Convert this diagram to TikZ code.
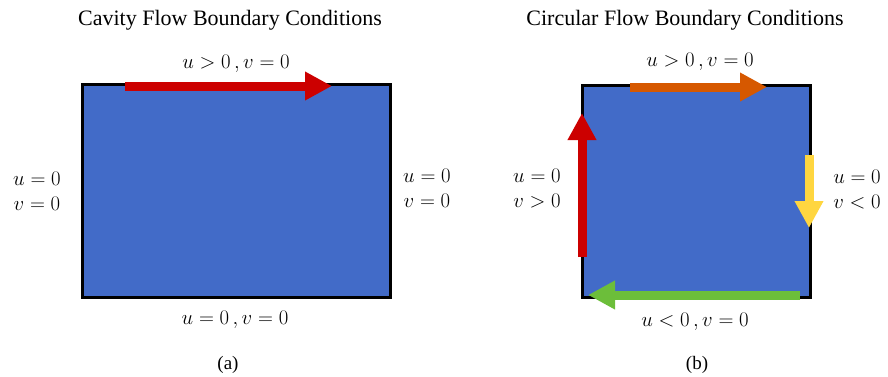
\documentclass[tikz,border=0pt]{standalone}
\usepackage{fontspec}
\setmainfont{Liberation Serif}
\usetikzlibrary{arrows.meta}

\definecolor{fluidblue}{RGB}{66,107,200}
\definecolor{lidred}{RGB}{204,0,0}
\definecolor{lidorange}{RGB}{214,88,0}
\definecolor{wallyellow}{RGB}{255,214,64}
\definecolor{floorgreen}{RGB}{108,190,58}

\tikzset{
  flowarrow/.style={line width=9pt, -{Triangle[length=27pt,width=27pt]}},
  bclabel/.style={font=\fontsize{22}{25}\selectfont, align=center, inner sep=0pt},
  titlelabel/.style={font=\fontsize{22}{26}\selectfont, inner sep=0pt},
  caplabel/.style={font=\fontsize{19}{22}\selectfont, inner sep=0pt}
}

\begin{document}
\begin{tikzpicture}[x=1pt, y=-1pt]

  \useasboundingbox (0,0) rectangle (888,376);

  % Cavity flow
  \node[titlelabel] (cavtitle) at (230,20) {Cavity Flow Boundary Conditions};
  \fill[fluidblue] (82,84) rectangle (390,297);
  \draw[line width=3pt] (82,84) rectangle (390,297);

  \coordinate (cavlidA) at (125,86);
  \coordinate (cavlidB) at (332,86);
  \draw[flowarrow, lidred] (cavlidA) -- (cavlidB);

  \node[bclabel] (cavtop) at (236,64) {$u>0\,,v=0$};
  \node[bclabel] (cavleft) at (37,191) {$u=0$\\$v=0$};
  \node[bclabel] (cavright) at (427,188) {$u=0$\\$v=0$};
  \node[bclabel] (cavbottom) at (235,320) {$u=0\,,v=0$};
  \node[caplabel] (capa) at (228,365) {(a)};

  % Circular flow
  \node[titlelabel] (circtitle) at (685,20) {Circular Flow Boundary Conditions};
  \fill[fluidblue] (582,85) rectangle (810,297);
  \draw[line width=3pt] (582,85) rectangle (810,297);

  \coordinate (topA) at (630,87);
  \coordinate (topB) at (767,87);
  \coordinate (leftA) at (582,257);
  \coordinate (leftB) at (582,113);
  \coordinate (rightA) at (809,155);
  \coordinate (rightB) at (809,228);
  \coordinate (botA) at (800,295);
  \coordinate (botB) at (588,295);
  \draw[flowarrow, lidorange] (topA) -- (topB);
  \draw[flowarrow, lidred] (leftA) -- (leftB);
  \draw[flowarrow, wallyellow] (rightA) -- (rightB);
  \draw[flowarrow, floorgreen] (botA) -- (botB);

  \node[bclabel] (circtop) at (700,62) {$u>0\,,v=0$};
  \node[bclabel] (circleft) at (537,189) {$u=0$\\$v>0$};
  \node[bclabel] (circright) at (857,190) {$u=0$\\$v<0$};
  \node[bclabel] (circbottom) at (695,322) {$u<0\,,v=0$};
  \node[caplabel] (capb) at (697,365) {(b)};

\end{tikzpicture}
\end{document}
